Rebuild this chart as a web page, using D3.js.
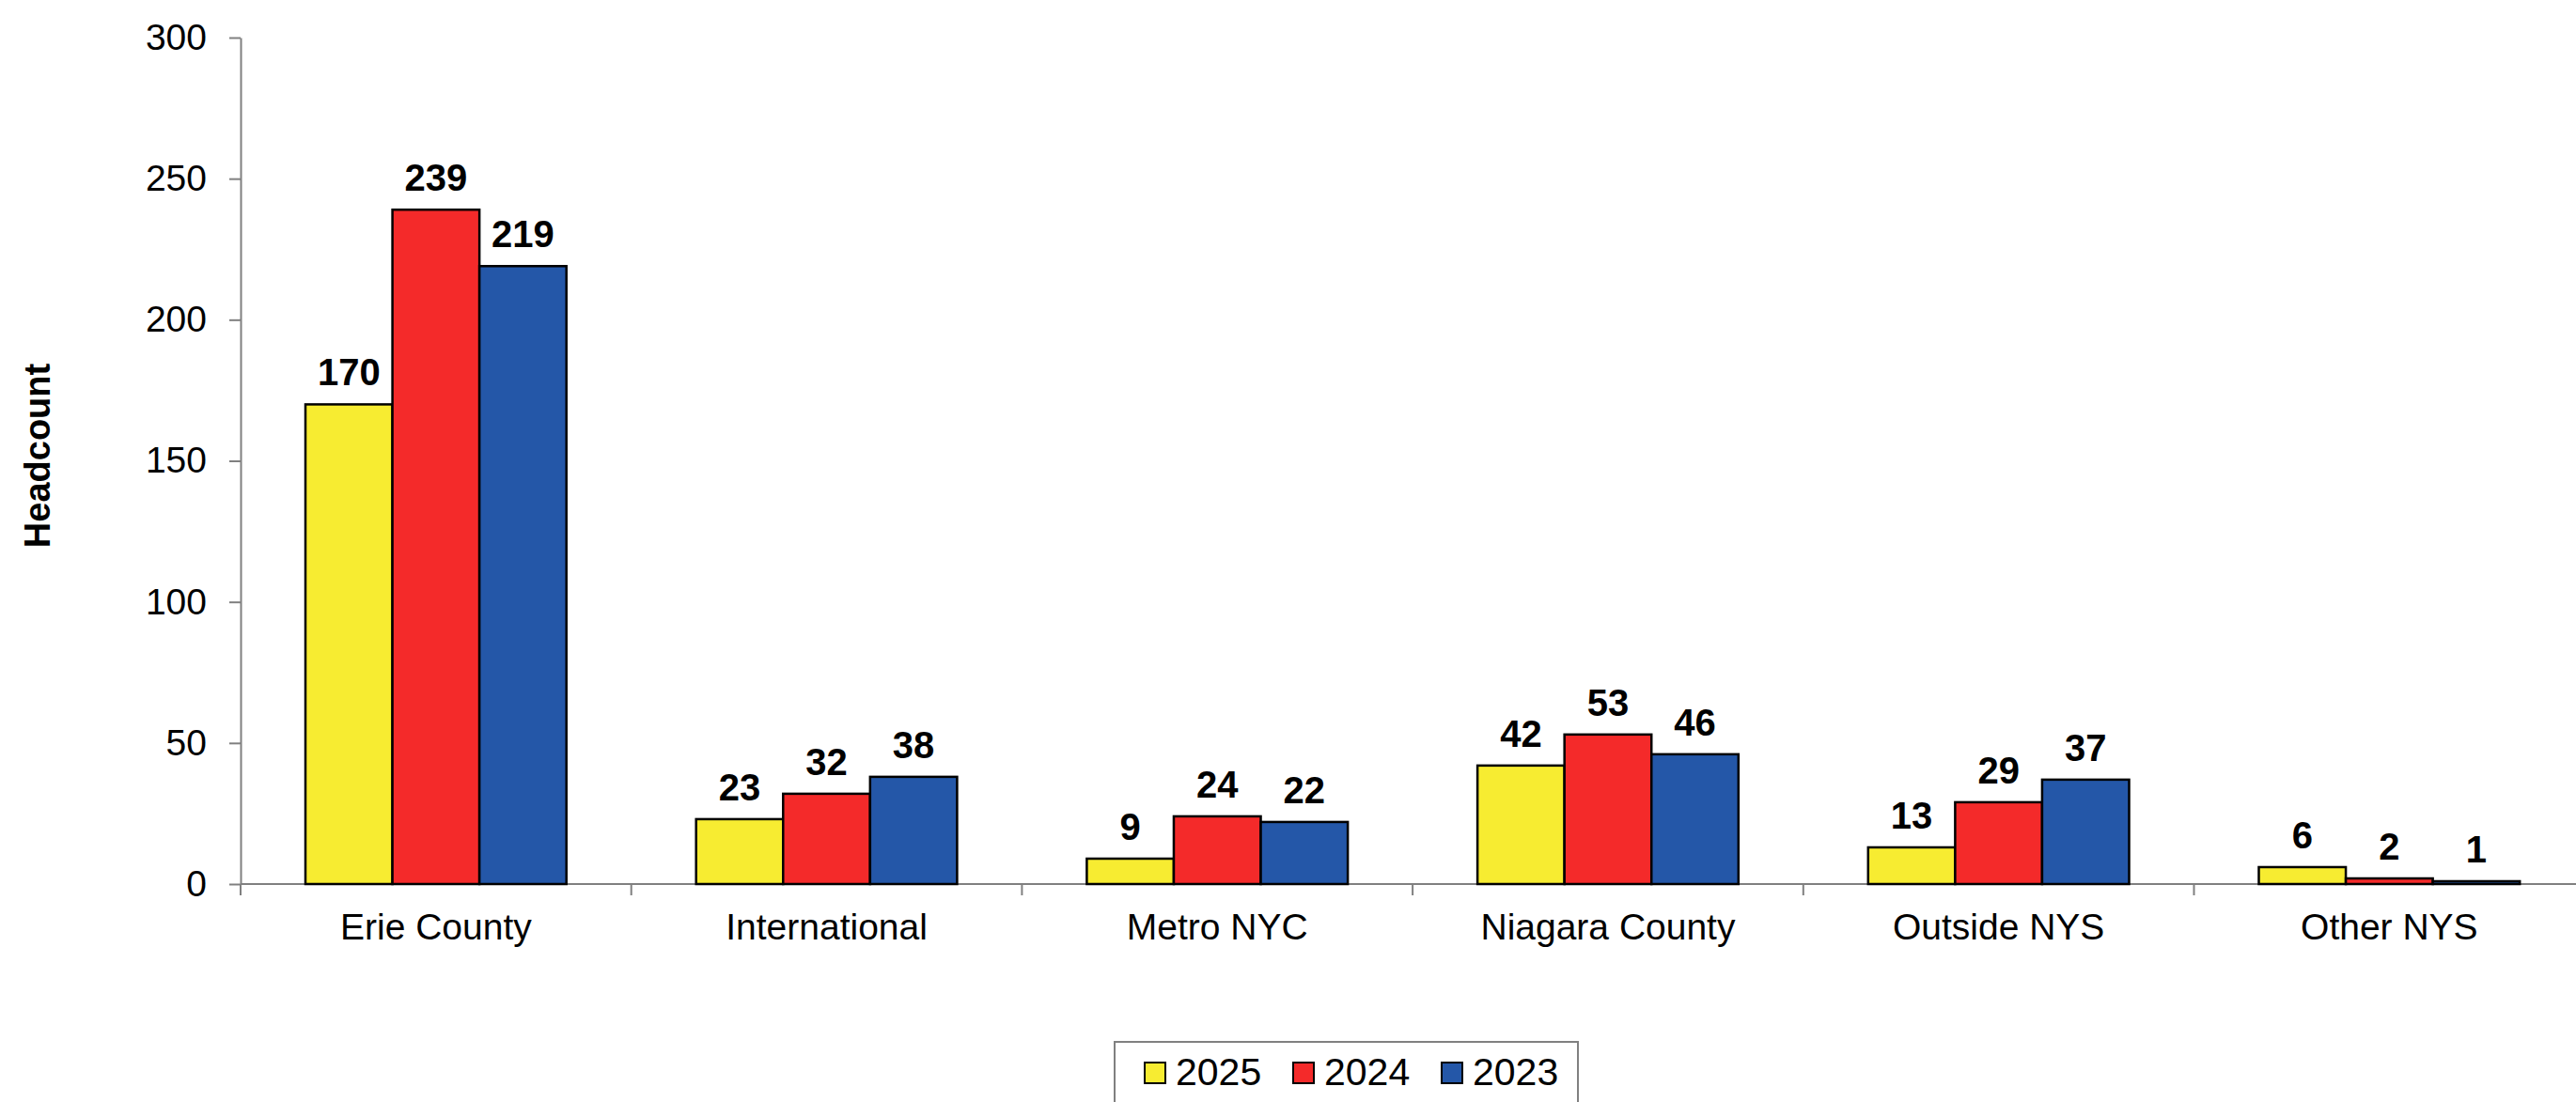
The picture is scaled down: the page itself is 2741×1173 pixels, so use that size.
<!DOCTYPE html>
<html>
<head>
<meta charset="utf-8">
<script src="https://cdn.jsdelivr.net/npm/d3@7"></script>
<style>
  html, body { margin: 0; padding: 0; background: #fff; }
  svg { display: block; font-family: "Liberation Sans", Arial, sans-serif; }
</style>
</head>
<body>
<script>
// data
const categories = ['Erie County', 'International', 'Metro NYC', 'Niagara County', 'Outside NYS', 'Other NYS'];
const years = ['2025', '2024', '2023'];
const values2025 = [170, 23, 9, 42, 13, 6];
const values2024 = [239, 32, 24, 53, 29, 2];
const values2023 = [219, 38, 22, 46, 37, 1];
const yTicks = [0, 50, 100, 150, 200, 250, 300];
const colors = ['#f7ec31', '#f42a2a', '#2457a8'];

const width = 2741, height = 1173;
const margin = {top: 40, left: 256, bottom: 941};

const series = [values2025, values2024, values2023];
const rows = categories.map((c, i) => ({cat: c, vals: years.map((yr, j) => ({year: yr, j: j, v: series[j][i]}))}));

const x = d3.scaleBand()
  .domain(categories)
  .range([margin.left, margin.left + 6 * 415.7])
  .paddingInner(0).paddingOuter(0);

const inner = d3.scaleBand()
  .domain(years)
  .range([69, x.bandwidth() - 69]);

const y = d3.scaleLinear()
  .domain([0, 300])
  .range([margin.bottom, margin.top]);

const svg = d3.select('body').append('svg')
  .attr('width', width).attr('height', height);

// y axis
const yAxis = svg.append('g')
  .attr('transform', `translate(${margin.left},0)`)
  .call(d3.axisLeft(y).tickValues(yTicks).tickSize(12).tickPadding(24).tickSizeOuter(0));
yAxis.select('.domain').attr('stroke', '#808080').attr('stroke-width', 2);
yAxis.selectAll('.tick line').attr('stroke', '#808080').attr('stroke-width', 2);
yAxis.selectAll('.tick text')
  .attr('font-size', 39).attr('fill', '#000')
  .attr('font-family', '"Liberation Sans", Arial, sans-serif');

// x axis
const xAxis = svg.append('g')
  .attr('transform', `translate(0,${margin.bottom})`)
  .call(d3.axisBottom(x).tickSize(0).tickPadding(0));
xAxis.select('.domain').remove();
xAxis.append('line')
  .attr('x1', margin.left).attr('x2', x.range()[1])
  .attr('stroke', '#808080').attr('stroke-width', 2);
xAxis.selectAll('.boundary')
  .data(categories.map(c => x(c)).concat([x.range()[1]]))
  .enter().append('line')
  .attr('x1', d => d).attr('x2', d => d)
  .attr('y1', 0).attr('y2', 12)
  .attr('stroke', '#808080').attr('stroke-width', 2);
xAxis.selectAll('.tick text')
  .attr('font-size', 39).attr('fill', '#000')
  .attr('dy', null).attr('y', 59)
  .attr('font-family', '"Liberation Sans", Arial, sans-serif');

// y label
svg.append('text')
  .attr('transform', 'translate(53,485) rotate(-90)')
  .attr('text-anchor', 'middle')
  .attr('font-size', 38).attr('font-weight', 'bold')
  .text('Headcount');

// bars
const groups = svg.selectAll('.group')
  .data(rows)
  .enter().append('g')
  .attr('transform', d => `translate(${x(d.cat)},0)`);

groups.selectAll('rect')
  .data(d => d.vals)
  .enter().append('rect')
  .attr('x', d => inner(d.year))
  .attr('y', d => y(d.v))
  .attr('width', inner.bandwidth())
  .attr('height', d => y(0) - y(d.v))
  .attr('fill', d => colors[d.j])
  .attr('stroke', '#000').attr('stroke-width', 2.5);

groups.selectAll('.label')
  .data(d => d.vals)
  .enter().append('text')
  .attr('x', d => inner(d.year) + inner.bandwidth() / 2)
  .attr('y', d => y(d.v) - 20)
  .attr('text-anchor', 'middle')
  .attr('font-size', 40).attr('font-weight', 'bold')
  .text(d => d.v);

// legend
const legend = svg.append('g');
legend.append('rect')
  .attr('x', 1186).attr('y', 1109)
  .attr('width', 493).attr('height', 80)
  .attr('fill', '#fff').attr('stroke', '#808080').attr('stroke-width', 2);
const items = legend.selectAll('.item')
  .data(years)
  .enter().append('g')
  .attr('transform', (d, i) => `translate(${1218 + i * 158},0)`);
items.append('rect')
  .attr('x', 0).attr('y', 1131)
  .attr('width', 22).attr('height', 22)
  .attr('fill', (d, i) => colors[i])
  .attr('stroke', '#000').attr('stroke-width', 2);
items.append('text')
  .attr('x', 33).attr('y', 1155)
  .attr('font-size', 41)
  .text(d => d);
</script>
</body>
</html>
